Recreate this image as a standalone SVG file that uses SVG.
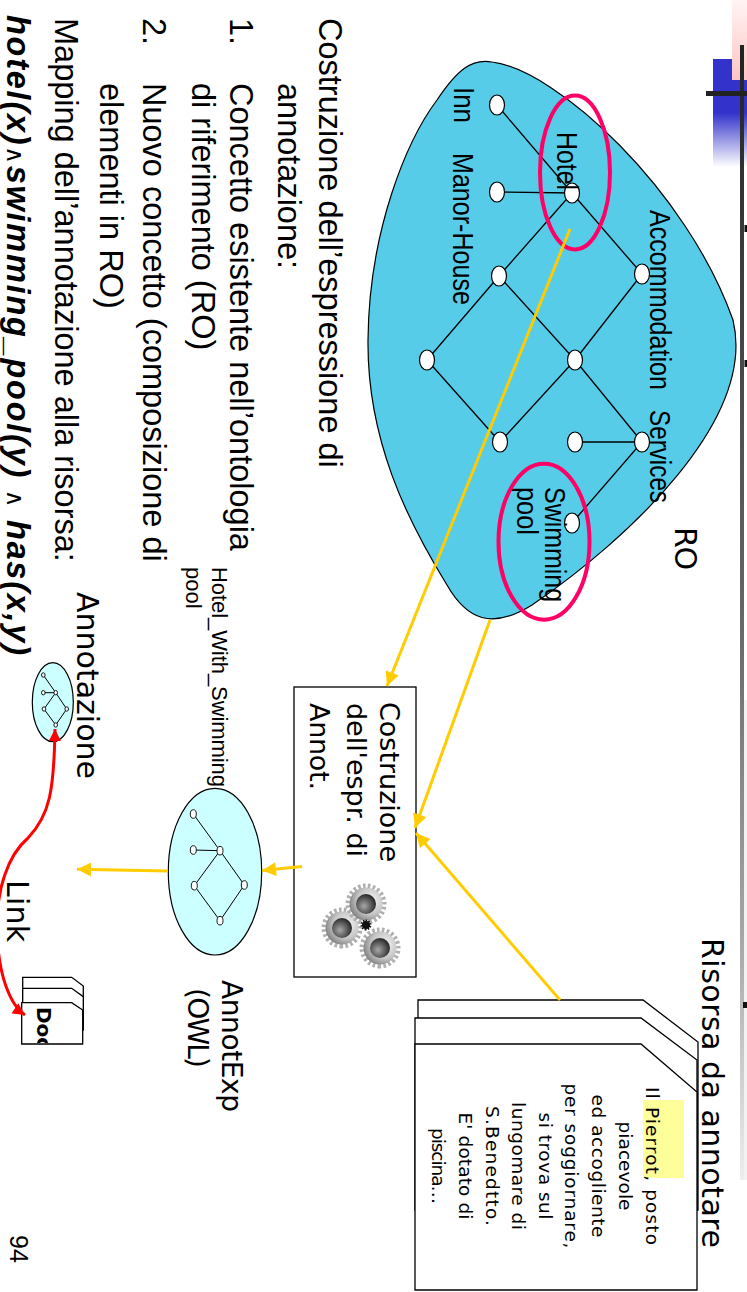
<svg xmlns="http://www.w3.org/2000/svg" width="747" height="1292" viewBox="0 0 747 1292">
<style>
  .t {font-family:"Liberation Sans", Arial, sans-serif; fill:#000;}
  .body {font-size:32.5px;}
  .narrow {font-size:30px;}
  .hand {font-family:"DejaVu Sans", Verdana, sans-serif; fill:#000;}
  .op {font-family:"DejaVu Sans", sans-serif; font-weight:normal; font-style:normal; font-size:24px;}
  .node {fill:#fff; stroke:#000; stroke-width:1.2;}
  .edge {stroke:#000; stroke-width:1.3; fill:none;}
  .mini {fill:#fff; stroke:#000; stroke-width:0.9;}
  .miniedge {stroke:#000; stroke-width:1; fill:none;}
  .flow {stroke:#FFCC00; stroke-width:3; fill:none; marker-end:url(#arrowY);}
  .ring {fill:none; stroke:#FF0066; stroke-width:4;}
  .page {fill:#fff; stroke:#000; stroke-width:1.3;}
  .bubble {fill:#CCFFFF; stroke:#000; stroke-width:1.2;}
</style>
<defs>
  <marker id="arrowY" viewBox="0 0 10 10" refX="10" refY="5" markerWidth="15" markerHeight="14" markerUnits="userSpaceOnUse" orient="auto">
    <path d="M0,0 L10,5 L0,10 z" fill="#FFCC00"/>
  </marker>
  <marker id="arrowR" viewBox="0 0 10 10" refX="10" refY="5" markerWidth="13" markerHeight="12" markerUnits="userSpaceOnUse" orient="auto-start-reverse">
    <path d="M0,0 L10,5 L0,10 z" fill="#FF0000"/>
  </marker>
  <linearGradient id="blueFade" x1="0" y1="0" x2="1" y2="0">
    <stop offset="0" stop-color="#3333CC"/>
    <stop offset="0.5" stop-color="#3333CC"/>
    <stop offset="1" stop-color="#3333CC" stop-opacity="0"/>
  </linearGradient>
  <linearGradient id="pinkFade" x1="0" y1="0" x2="1" y2="0">
    <stop offset="0" stop-color="#FFF4F4"/>
    <stop offset="1" stop-color="#FFC4C4"/>
  </linearGradient>
  <linearGradient id="railFade" x1="0" y1="0" x2="1" y2="0">
    <stop offset="0" stop-color="#222"/>
    <stop offset="0.5" stop-color="#666"/>
    <stop offset="0.8" stop-color="#aaa"/>
    <stop offset="1" stop-color="#eee"/>
  </linearGradient>
  <radialGradient id="gearBody" cx="0.4" cy="0.35" r="0.7">
    <stop offset="0" stop-color="#f6f6f6"/>
    <stop offset="0.6" stop-color="#c4c4c4"/>
    <stop offset="1" stop-color="#7a7a7a"/>
  </radialGradient>
  <radialGradient id="gearHole" cx="0.6" cy="0.6" r="0.6">
    <stop offset="0" stop-color="#a8a8a8"/>
    <stop offset="1" stop-color="#2a2a2a"/>
  </radialGradient>
  <g id="gear">
    <circle r="17.5" fill="none" stroke="#b0b0b0" stroke-width="6" stroke-dasharray="2.5 2.2"/>
    <circle r="16.5" fill="url(#gearBody)"/>
    <circle r="10" fill="url(#gearHole)"/>
  </g>
  <clipPath id="docClip">
    <rect x="1003" y="664" width="40" height="61"/>
  </clipPath>
</defs>

<rect width="747" height="1292" fill="#fff"/>

<!-- slide content is laid out landscape and turned a quarter turn clockwise -->
<g id="slide" transform="translate(747 0) rotate(90)">

  <g id="corner-decor">
    <rect x="700" y="0" width="480" height="7" fill="#f2f2f2"/>
    <rect x="59" y="0" width="108" height="34" fill="url(#blueFade)"/>
    <rect x="0" y="0" width="80" height="15" fill="url(#pinkFade)"/>
    <rect x="45" y="3" width="1135" height="4" fill="url(#railFade)"/>
    <rect x="91" y="0" width="5" height="41" fill="#222"/>
    <rect x="225" y="0" width="7" height="2.5" fill="#111"/>
    <rect x="360" y="0" width="7" height="2.5" fill="#111"/>
    <rect x="1002" y="0" width="6" height="4" fill="#111"/>
  </g>

  <!-- reference ontology -->
  <g id="ro">
    <path d="M62,255 C70,190 190,60 320,14 C420,-10 540,120 605,215 C630,255 620,280 585,300 C520,340 440,380 340,379 C230,378 140,340 100,310 C70,290 58,275 62,255 Z" fill="#57CCE8" stroke="#000" stroke-width="1.2"/>
    <text class="hand" x="527" y="72" font-size="30" textLength="43">RO</text>
  </g>

  <g id="ro-edges">
    <line class="edge" x1="105" y1="250" x2="193" y2="175"/>
    <line class="edge" x1="192" y1="250" x2="193" y2="175"/>
    <line class="edge" x1="193" y1="175" x2="276" y2="248"/>
    <line class="edge" x1="193" y1="175" x2="274" y2="105"/>
    <line class="edge" x1="276" y1="248" x2="360" y2="320"/>
    <line class="edge" x1="276" y1="248" x2="360" y2="172"/>
    <line class="edge" x1="274" y1="105" x2="360" y2="172"/>
    <line class="edge" x1="360" y1="320" x2="442" y2="247"/>
    <line class="edge" x1="360" y1="172" x2="442" y2="247"/>
    <line class="edge" x1="360" y1="172" x2="442" y2="105"/>
    <line class="edge" x1="442" y1="172" x2="442" y2="105"/>
    <line class="edge" x1="442" y1="105" x2="523" y2="175"/>
  </g>

  <g id="n-inn">
    <ellipse class="node" cx="105" cy="250" rx="10" ry="7.5"/>
    <text class="t narrow" x="87" y="293" textLength="36" lengthAdjust="spacingAndGlyphs">Inn</text>
  </g>
  <g id="n-manor-house">
    <ellipse class="node" cx="192" cy="250" rx="10" ry="7.5"/>
    <text class="t narrow" x="153" y="294" textLength="152" lengthAdjust="spacingAndGlyphs">Manor-House</text>
  </g>
  <g id="n-hotel">
    <ellipse class="node" cx="193" cy="175" rx="10" ry="7.5"/>
    <text class="t narrow" x="132" y="190" textLength="58" lengthAdjust="spacingAndGlyphs">Hotel</text>
  </g>
  <g id="n-accommodation">
    <ellipse class="node" cx="274" cy="105" rx="10" ry="7.5"/>
    <text class="t narrow" x="210" y="97" textLength="180" lengthAdjust="spacingAndGlyphs">Accommodation</text>
  </g>
  <g id="n-4"><ellipse class="node" cx="276" cy="248" rx="10" ry="7.5"/></g>
  <g id="n-6"><ellipse class="node" cx="360" cy="320" rx="10" ry="7.5"/></g>
  <g id="n-7"><ellipse class="node" cx="360" cy="172" rx="10" ry="7.5"/></g>
  <g id="n-8"><ellipse class="node" cx="442" cy="247" rx="10" ry="7.5"/></g>
  <g id="n-9"><ellipse class="node" cx="442" cy="172" rx="10" ry="7.5"/></g>
  <g id="n-services">
    <ellipse class="node" cx="442" cy="105" rx="10" ry="7.5"/>
    <text class="t narrow" x="410" y="97" textLength="93" lengthAdjust="spacingAndGlyphs">Services</text>
  </g>
  <g id="n-swimming-pool">
    <ellipse class="node" cx="523" cy="175" rx="10" ry="7.5"/>
    <text class="t narrow" x="487" y="202" textLength="115" lengthAdjust="spacingAndGlyphs">Swimming</text>
    <text class="t narrow" x="487" y="230" textLength="48" lengthAdjust="spacingAndGlyphs">pool</text>
  </g>

  <g id="highlight-rings">
    <ellipse class="ring" cx="172.5" cy="172" rx="77" ry="35"/>
    <ellipse class="ring" cx="541.7" cy="203" rx="78" ry="45.5"/>
  </g>

  <!-- bullet text -->
  <g id="bullets" class="t body">
    <text x="18" y="428">Costruzione dell’espressione di</text>
    <text x="83" y="469">annotazione:</text>
    <text x="18" y="517">1.</text>
    <text x="83" y="517">Concetto esistente nell’ontologia</text>
    <text x="83" y="555">di riferimento (RO)</text>
    <text x="18" y="604">2.</text>
    <text x="83" y="604">Nuovo concetto (composizione di</text>
    <text x="83" y="647">elementi in RO)</text>
    <text x="18" y="692">Mapping dell’annotazione alla risorsa:</text>
    <text x="15" y="740" font-weight="bold" font-style="italic" textLength="640" lengthAdjust="spacing">hotel(x)<tspan class="op">∧</tspan>swimming_pool(y) <tspan class="op">∧</tspan> has(x,y)</text>
  </g>

  <!-- processing step -->
  <g id="build-step">
    <rect x="687" y="331" width="290" height="122" fill="#fff" stroke="#000" stroke-width="1.3"/>
    <text class="hand" x="702" y="367" font-size="27" textLength="160">Costruzione</text>
    <text class="hand" x="703" y="400" font-size="27" textLength="154">dell'espr. di</text>
    <text class="hand" x="703" y="437" font-size="27" textLength="87">Annot.</text>
    <g id="gears">
      <use href="#gear" x="928" y="405"/>
      <use href="#gear" x="948" y="367"/>
      <use href="#gear" x="904" y="381"/>
      <circle cx="925" cy="381" r="4" fill="#111" stroke="#111" stroke-width="3" stroke-dasharray="1.2 1.2"/>
    </g>
  </g>

  <!-- annotation expression -->
  <g id="annot-exp">
    <text class="t" x="567" y="535" font-size="22" textLength="220">Hotel_With_Swimming</text>
    <text class="t" x="567" y="561" font-size="22">pool</text>
    <ellipse class="bubble" cx="871.7" cy="532" rx="83.3" ry="46.7"/>
    <line class="miniedge" x1="814" y1="553.7" x2="850.7" y2="527"/>
    <line class="miniedge" x1="850" y1="553.7" x2="850.7" y2="527"/>
    <line class="miniedge" x1="850.7" y1="527" x2="885.7" y2="552.7"/>
    <line class="miniedge" x1="850.7" y1="527" x2="885" y2="502.7"/>
    <line class="miniedge" x1="885.7" y1="552.7" x2="920.7" y2="527"/>
    <line class="miniedge" x1="885" y1="502.7" x2="920.7" y2="527"/>
    <ellipse class="mini" cx="814" cy="553.7" rx="4.3" ry="3"/>
    <ellipse class="mini" cx="850" cy="553.7" rx="4.3" ry="3"/>
    <ellipse class="mini" cx="850.7" cy="527" rx="4.3" ry="3"/>
    <ellipse class="mini" cx="885.7" cy="552.7" rx="4.3" ry="3"/>
    <ellipse class="mini" cx="885" cy="502.7" rx="4.3" ry="3"/>
    <ellipse class="mini" cx="920.7" cy="527" rx="4.3" ry="3"/>
    <text class="hand" x="980" y="525" font-size="28" textLength="132">AnnotExp</text>
    <text class="hand" x="988" y="559" font-size="28" textLength="80">(OWL)</text>
  </g>

  <!-- stored annotation -->
  <g id="annotazione">
    <text class="hand" x="592" y="670" font-size="30" textLength="187">Annotazione</text>
    <ellipse class="bubble" cx="702.2" cy="694.2" rx="39.5" ry="20.5"/>
    <line class="miniedge" x1="675" y1="703.7" x2="692.7" y2="691.3"/>
    <line class="miniedge" x1="692.7" y1="703.7" x2="692.7" y2="691.3"/>
    <line class="miniedge" x1="692.7" y1="691.3" x2="709" y2="703"/>
    <line class="miniedge" x1="692.7" y1="691.3" x2="709" y2="680.3"/>
    <line class="miniedge" x1="709" y1="703" x2="725" y2="691.3"/>
    <line class="miniedge" x1="709" y1="680.3" x2="725" y2="691.3"/>
    <ellipse class="mini" cx="675" cy="703.7" rx="2.2" ry="1.8"/>
    <ellipse class="mini" cx="692.7" cy="703.7" rx="2.2" ry="1.8"/>
    <ellipse class="mini" cx="692.7" cy="691.3" rx="2.2" ry="1.8"/>
    <ellipse class="mini" cx="709" cy="703" rx="2.2" ry="1.8"/>
    <ellipse class="mini" cx="709" cy="680.3" rx="2.2" ry="1.8"/>
    <ellipse class="mini" cx="725" cy="691.3" rx="2.2" ry="1.8"/>
  </g>

  <!-- resource to annotate -->
  <g id="resource">
    <text class="hand" x="938" y="45" font-size="30" textLength="310">Risorsa da annotare</text>
    <polygon class="page" points="1000,329 1000,104 1042,49 1210,49 1210,329"/>
    <polygon class="page" points="1018,332 1018,106 1060,50 1210,50 1210,332"/>
    <polygon class="page" points="1044,332 1044,106 1092,50 1290,50 1290,332"/>
    <rect x="1100" y="63" width="78" height="41" fill="#FFFF99"/>
    <g class="hand" font-size="18.5" text-anchor="middle">
      <text x="1166" y="101" textLength="158">Il Pierrot, posto</text>
      <text x="1166" y="128" textLength="89">piacevole</text>
      <text x="1166" y="155" textLength="143">ed accogliente</text>
      <text x="1166" y="182" textLength="165">per soggiornare,</text>
      <text x="1166" y="208.5" textLength="107">si trova sul</text>
      <text x="1166" y="235" textLength="128">lungomare di</text>
      <text x="1166" y="261.5" textLength="120">S.Benedtto.</text>
      <text x="1166" y="288" textLength="107">E' dotato di</text>
      <text x="1166" y="315" textLength="76">piscina…</text>
    </g>
  </g>

  <!-- linked document -->
  <g id="doc">
    <polygon class="page" points="977.3,724.3 977.3,675.3 986,663.7 1025,663.7 1025,724.3"/>
    <polygon class="page" points="988.3,724.3 988.3,675.3 996.7,663.7 1030,663.7 1030,724.3"/>
    <polygon class="page" points="1002.7,725.3 1002.7,675.3 1010,664.3 1044,664.3 1044,725.3"/>
    <text class="hand" x="1007" y="710" font-size="20" font-weight="bold" clip-path="url(#docClip)">Doc</text>
  </g>

  <text class="t" x="1235" y="737" font-size="25">94</text>

  <!-- flow connectors -->
  <g id="connectors">
    <line class="flow" x1="229" y1="177" x2="686" y2="360"/>
    <line class="flow" x1="620" y1="257" x2="828" y2="332"/>
    <line class="flow" x1="1000" y1="187" x2="833" y2="331"/>
    <line class="flow" x1="866.5" y1="445" x2="870.5" y2="485"/>
    <line class="flow" x1="871" y1="579" x2="869.3" y2="670"/>
    <path d="M729,692 C790,693 815,697 838,719 C855,739 890,751 930,750 C975,749 1005,737 1015,722" fill="none" stroke="#FF0000" stroke-width="3" marker-start="url(#arrowR)" marker-end="url(#arrowR)"/>
    <text class="hand" x="880" y="740" font-size="30" textLength="62">Link</text>
  </g>
</g>
</svg>
